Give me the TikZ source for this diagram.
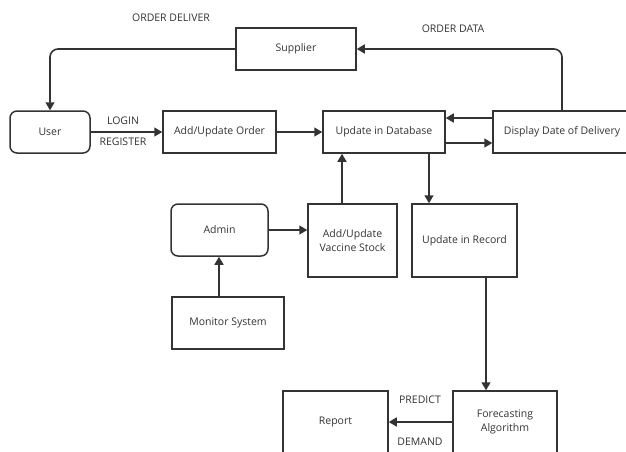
\documentclass[tikz,border=0pt]{standalone}
\usepackage{fontspec}
\setmainfont{Open Sans}
\usetikzlibrary{arrows.meta}
\begin{document}
\begin{tikzpicture}[x=1pt,y=-1pt,line width=1.5pt,color=black!80,
    box/.style={draw,minimum width=#1,inner sep=0pt,align=center,font=\fontsize{10.5}{14}\selectfont},
    ubox/.style={box=#1,rounded corners=7pt},
    lbl/.style={font=\fontsize{10.5}{12}\selectfont},
    flow/.style={-{Triangle[width=9pt,length=8pt]},line width=1.6pt}]
    \useasboundingbox (0,0) rectangle (626,451);
    \clip (0,0) rectangle (626,451);
    \node[ubox=80pt,minimum height=42pt] (user) at (50,132) {User};
    \node[box=113pt,minimum height=42pt] (order) at (219.5,132) {Add/Update Order};
    \node[box=120pt,minimum height=42pt] (supplier) at (296,49) {Supplier};
    \node[box=122pt,minimum height=42pt] (db) at (384,132) {Update in Database};
    \node[box=138pt,minimum height=42pt] (display) at (562,132) {Display Date of Delivery};
    \node[ubox=97pt,minimum height=52pt] (admin) at (219.5,230) {Admin};
    \node[box=89pt,minimum height=73pt] (stock) at (352.5,240.5) {Add/Update\\Vaccine Stock};
    \node[box=105pt,minimum height=73pt] (record) at (464.5,240.5) {Update in Record};
    \node[box=112pt,minimum height=52pt] (monitor) at (228,323) {Monitor System};
    \node[box=104pt,minimum height=62pt] (forecast) at (505,422) {Forecasting\\Algorithm};
    \node[box=105pt,minimum height=62pt] (report) at (335.5,422) {Report};
    % top loop
    \draw[flow,rounded corners=8pt] (supplier.west) -| (user.north);
    \draw[flow,rounded corners=8pt] (display.north) |- (supplier.east);
    \node[lbl] (deliver) at (171,18) {ORDER DELIVER};
    \node[lbl] (data) at (453,29) {ORDER DATA};
    % main row
    \draw[flow] (user) -- (order);
    \node[lbl] (login) at (123,121) {LOGIN};
    \node[lbl] (register) at (123,142) {REGISTER};
    \draw[flow] (order) -- (db);
    \draw[flow] ([yshift=14pt]display.west) -- ([yshift=14pt]db.east);
    \draw[flow] ([yshift=-11pt]db.east) -- ([yshift=-11pt]display.west);
    \draw[flow] ([xshift=45pt]db.south) -- ([xshift=-35.5pt]record.north);
    \draw[flow] ([xshift=-10.5pt]stock.north) -- ([xshift=-42pt]db.south);
    \draw[flow] (admin.east) -- (stock.west |- admin.east);
    \draw[flow] ([xshift=-9pt]monitor.north) -- ([xshift=-0.5pt]admin.south);
    \draw[flow] ([xshift=21.5pt]record.south) -- ([xshift=-19pt]forecast.north);
    \draw[flow] (forecast) -- (report);
    \node[lbl] (predict) at (420,400) {PREDICT};
    \node[lbl] (demand) at (420,442) {DEMAND};
\end{tikzpicture}
\end{document}
